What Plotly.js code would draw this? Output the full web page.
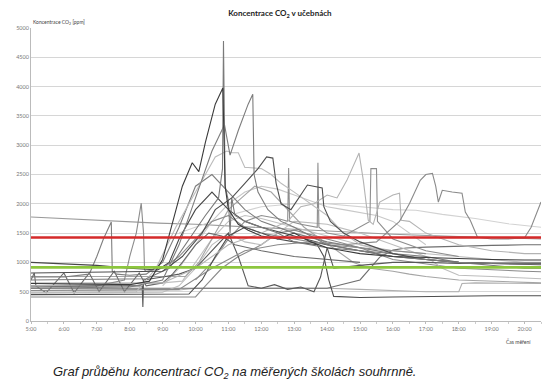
<!DOCTYPE html>
<html><head><meta charset="utf-8">
<script src="https://cdn.plot.ly/plotly-3.0.1.min.js"></script>
<style>html,body{margin:0;padding:0;background:#fff;}#chart{width:552px;height:391px;}</style>
</head><body><div id="chart"></div>
<script>
// Time of day in hours (5 = 5:00), CO2 concentration in ppm
const tickHours = [5,6,7,8,9,10,11,12,13,14,15,16,17,18,19,20];
const tickLabels = ["5:00","6:00","7:00","8:00","9:00","10:00","11:00","12:00","13:00","14:00","15:00","16:00","17:00","18:00","19:00","20:00"];
const yTicks = [0,500,1000,1500,2000,2500,3000,3500,4000,4500,5000];

const limitRedValue = 1425;
const limitGreenValue = 915;

const tA = [5,6,7,8,8.6,9.0,9.3,9.6,9.9,10.1,10.3,10.6,10.83,10.9,11.0,11.3,11.6,12.0,12.5,13,13.5,14,14.5,15,16,17,18,19,20,20.5];
const vA = [640,640,630,620,680,1050,1700,2300,2700,2550,3050,3700,3975,2300,1900,1650,1550,1450,1400,1500,1350,1250,1200,1150,1100,1080,1060,1050,1040,1040];
const tB = [5,8,9.0,9.5,10.0,10.5,10.88,11.05,11.3,11.6,11.74,11.78,11.9,12.2,12.6,13,13.5,14,15,16,17,18,19,20,20.5];
const vB = [560,580,700,1300,2100,2900,3350,2830,3250,3700,3870,2500,2200,1900,1700,1600,1450,1300,1200,1100,1050,1000,980,970,970];
const tC = [5,8.5,9.2,9.8,10.3,10.7,10.82,10.85,10.9,11.0,11.05,11.1,11.2,11.5,12,12.5,13,14,15,16,17,18,19,20,20.5];
const vC = [700,720,900,1400,1800,2100,2600,4780,2300,2050,1500,2100,1800,1700,1600,1500,1350,1250,1200,1150,1100,1000,950,900,900];
const tD = [5,8.2,8.8,9.4,10.0,10.6,10.95,11.1,11.3,11.5,11.6,12.0,12.3,12.6,13,13.5,14,14.5,15,16,17,18];
const vD = [480,500,900,1600,2200,2800,2900,2870,2870,2620,2620,2600,2500,2350,2200,2000,1800,1500,1300,1150,1050,1000];
const tE = [5,9,9.6,10.2,10.6,11.1,11.5,11.9,12.16,12.35,12.45,12.6,12.9,13.2,13.4,13.85,13.9,14.1,14.5,15,15.5,16,17,18,19,20,20.5];
const vE = [820,850,1100,1500,1900,2100,2350,2600,2800,2780,2350,2000,1900,2150,2320,2270,1950,1700,1500,1350,1250,1150,1050,1000,980,980,980];
const tF = [5,9,10,11,12,12.8,13.2,13.6,14.0,14.3,14.6,14.97,15.1,15.25,15.4,15.6,16.0,16.2,16.25,16.5,17,18,19,20,20.5];
const vF = [600,650,900,1300,1500,1700,1950,2000,2150,2100,2400,2866,2400,1720,1650,2030,2150,2180,1720,1700,1500,1300,1200,1150,1150];
const tG = [5,9.5,10.5,11.5,12.5,13.5,14.5,15.5,16.2,16.5,16.83,17.0,17.2,17.3,17.38,17.5,17.8,18.1,18.2,18.35,18.57,19,19.5,20.0,20.2,20.4,20.5];
const vG = [520,540,900,1200,1300,1350,1300,1350,1700,2000,2400,2500,2520,2300,2030,2230,2200,2180,1860,1720,1430,1400,1400,1420,1600,1900,2030];
const tH = [9.5,11,12,13,14,15,16,16.7,17.5,18.5,19.5,20.5];
const vH = [1500,1800,1950,2000,2000,1950,1900,1890,1820,1750,1660,1600];
const tI = [5,6,7,8,8.85,10,11,12,13,14,16,18,20.5];
const vI = [1775,1745,1720,1695,1670,1650,1620,1590,1560,1530,1480,1440,1400];
const tJ = [5,6,7,8,8.85,9.2,9.5,10,10.5,11,11.5,12,13,14,15,16,17,18,19,20,20.5];
const vJ = [1000,980,950,900,870,1000,1400,1900,2200,1900,1700,1600,1450,1300,1200,1100,1050,1000,980,960,960];
const tK = [5,5.1,5.15,5.46,6.0,6.31,6.77,7.07,7.53,7.84,8.29,8.5,9,9.3,9.6,10,10.4,10.8,11.2,11.6,12,13,14,15];
const vK = [700,820,600,480,820,480,820,500,850,500,820,600,650,800,1000,1300,1500,1450,1300,1250,1200,1100,1050,1000];
const tL = [5,6,6.77,7.0,7.2,7.44,7.47,7.6,8,8.5,9,9.5,10,10.5,11,11.5,12,13,14,15,16];
const vL = [750,750,800,1100,1400,1690,850,800,780,800,1000,1600,2300,2500,2200,1900,1700,1500,1350,1250,1150];
const tM = [5,7,7.84,8.0,8.2,8.35,8.42,8.45,8.5,9,9.5,10,10.5,11,11.5,12,13,14,15,16,17];
const vM = [580,600,700,1100,1500,2010,1500,870,850,900,1100,1400,1700,1800,1600,1500,1400,1300,1250,1200,1150];
const tN = [5,8.38,8.4,8.42,9,9.5,10,10.5,11,11.3,11.6,12,12.4,12.8,13.2,13.6,13.8,14,14.2,15,16,17,18,19,20,20.5];
const vN = [600,600,240,700,750,800,900,1200,1500,1100,600,560,620,540,580,500,750,1250,900,950,1000,1000,980,990,990,990];
const tO = [5,8,9.8,10.2,10.6,11,11.5,12,12.5,13,13.7,13.9,14.05,14.2,15,16,17,18,19,20,20.5];
const vO = [450,450,460,700,1100,1450,1600,1500,1400,1350,1300,1100,700,420,400,410,420,420,430,430,430];
const tP = [5,9.5,10,11,12,14,15,16,17,18.0,18.1,18.5,19,20,20.5];
const vP = [520,530,560,560,560,560,540,520,500,500,640,650,650,650,640];
const tQ = [5,8,10,10.3,10.8,11.3,12,12.5,13,14,15,16,18,20,20.5];
const vQ = [410,410,410,600,900,1100,1300,1500,1550,1400,1250,1050,900,850,840];
const tR = [5,7,9,9.6,10,10.5,11,11.5,12,13,14,15,16,17,18,19,20,20.5];
const vR = [650,650,650,680,1000,1400,1700,1800,1750,1600,1450,1300,1200,1150,1100,1050,1000,1000];
const tS = [5,8,10,11.5,12,13,14,15,15.6,16,16.4,17,18,19,20,20.5];
const vS = [560,560,560,560,560,560,560,700,1090,1210,1245,1260,1280,1290,1300,1300];
const tT = [5,9,9.5,10,10.5,11,11.5,12,12.5,13,14,15,16,17,17.5,18,19,20,20.5];
const vT = [480,490,600,900,1300,1500,1350,1300,1500,1700,1650,1500,1300,1100,900,780,760,740,720];
const tU = [5,9.7,10.1,10.6,11,11.4,11.8,12.3,12.8,13.3,13.8,14.3,14.8,15.3,16,16.5,17,18,19,20,20.5];
const vU = [760,760,1000,1500,1900,2100,2300,2200,1900,1600,1400,1200,1000,900,850,800,760,700,680,660,650];
const tV = [9,9.5,10,10.5,11,11.5,12,12.5,13,13.5,14,14.5,15,15.5,16,16.5,17];
const vV = [600,900,1300,1700,2000,2200,2300,2250,2150,2050,1950,1900,1850,1800,1700,1500,1300];
const tW = [10,10.5,11,11.5,12,12.5,12.8,12.83,12.86,13.2,13.7,13.72,13.75,14,14.5,15,15.3,15.33,15.5,15.53,16,17,18];
const vW = [700,1000,1400,1700,1800,1750,1700,2610,1700,1650,1600,2700,1600,1500,1450,1600,1700,2600,2600,1700,1400,1200,1100];

const series = [
  [tI,vI,"#9a9a9a"],[tH,vH,"#d2d2d2"],[tV,vV,"#c8c8c8"],[tP,vP,"#b0b0b0"],[tQ,vQ,"#8a8a8a"],
  [tR,vR,"#c0c0c0"],[tS,vS,"#6e6e6e"],[tT,vT,"#bdbdbd"],[tU,vU,"#a5a5a5"],[tW,vW,"#8e8e8e"],
  [tK,vK,"#6a6a6a"],[tL,vL,"#7e7e7e"],[tM,vM,"#8c8c8c"],[tN,vN,"#585858"],
  [tO,vO,"#4d4d4d"],[tJ,vJ,"#474747"],[tF,vF,"#b3b3b3"],[tG,vG,"#8a8a8a"],
  [tD,vD,"#bcbcbc"],[tC,vC,"#7a7a7a"],[tE,vE,"#4f4f4f"],[tB,vB,"#7c7c7c"],[tA,vA,"#3a3a3a"]
];

const traces = series.map(s => ({
  type:"scatter", mode:"lines", x:s[0], y:s[1],
  line:{color:s[2], width:1.1}, hoverinfo:"skip", showlegend:false
}));
traces.push({type:"scatter",mode:"lines",x:[5,20.5],y:[limitRedValue,limitRedValue],line:{color:"#d42a2a",width:2.6},showlegend:false});
traces.push({type:"scatter",mode:"lines",x:[5,20.5],y:[limitGreenValue,limitGreenValue],line:{color:"#8cc63e",width:2.6},showlegend:false});

const layout = {
  width:552, height:391,
  margin:{l:31,r:11,t:28,b:70},
  paper_bgcolor:"#fff", plot_bgcolor:"#fff",
  font:{family:"Lato, 'Liberation Sans', sans-serif", color:"#666"},
  title:{text:"<b>Koncentrace CO<sub>2</sub> v učebnách</b>", font:{size:8,color:"#222",family:"Lato, sans-serif"}, x:0.507, xanchor:"center", y:0.965, yanchor:"middle"},
  xaxis:{range:[5,20.5], tickvals:tickHours, ticktext:tickLabels, showgrid:false, zeroline:false,
    showline:true, linecolor:"#bbb", linewidth:1, ticks:"outside", ticklen:2, tickcolor:"#bbb",
    tickfont:{size:5.5,color:"#777"}, minor:{ticks:"outside",ticklen:2,dtick:0.5,tickcolor:"#ccc"}},
  yaxis:{range:[0,5000], tickvals:yTicks, showgrid:true, gridcolor:"#d6d6d6", gridwidth:1, zeroline:false,
    showline:true, linecolor:"#bbb", linewidth:1, ticks:"", tickfont:{size:5.5,color:"#777"}},
  annotations:[
    {text:"Koncentrace CO<sub>2</sub> [ppm]", xref:"paper", yref:"paper", x:0, y:1.02, xanchor:"left", yanchor:"middle", showarrow:false, font:{size:5,color:"#444"}},
    {text:"Čas měření", xref:"paper", yref:"paper", x:0.955, y:-0.07, xanchor:"center", yanchor:"middle", showarrow:false, font:{size:5,color:"#444"}},
    {text:"<i>Graf průběhu koncentrací CO<sub>2</sub> na měřených školách souhrnně.</i>", xref:"paper", yref:"paper", x:0.04, y:-0.175, xanchor:"left", yanchor:"middle", showarrow:false, font:{size:13,color:"#222",family:"'Liberation Sans', Arial, sans-serif"}}
  ]
};
Plotly.newPlot("chart", traces, layout, {displayModeBar:false, staticPlot:true});
</script></body></html>
